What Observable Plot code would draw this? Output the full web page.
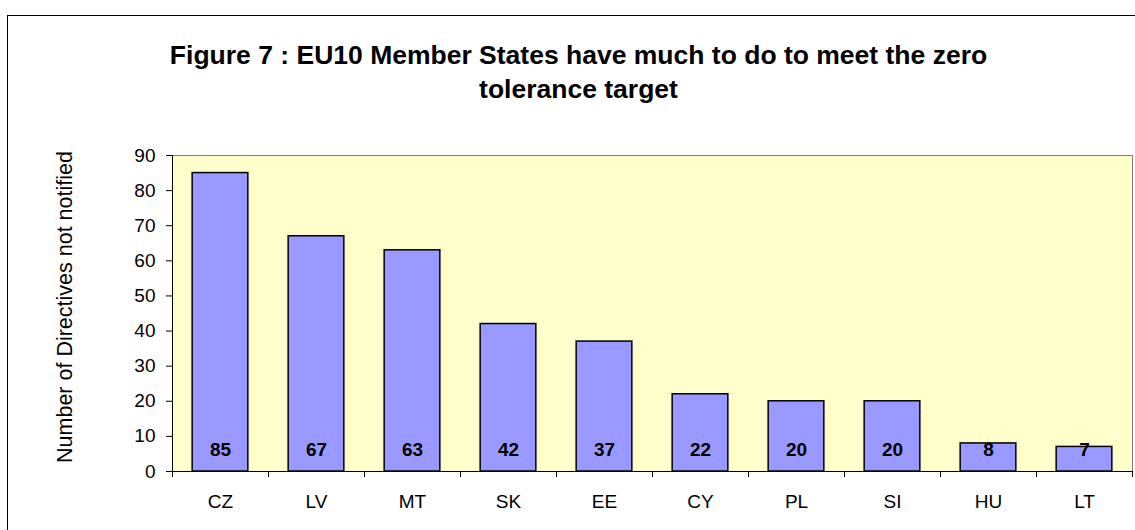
<!DOCTYPE html>
<html>
<head>
<meta charset="utf-8">
<script src="https://cdn.jsdelivr.net/npm/d3@7"></script>
<script src="https://cdn.jsdelivr.net/npm/@observablehq/plot@0.6"></script>
<style>
  body { margin: 0; background: #fff; font-family: "Liberation Sans", Arial, sans-serif; }
  #wrap { position: relative; width: 1135px; height: 530px; overflow: hidden; }
  #frame { position: absolute; left: 7px; top: 15px; width: 1200px; height: 600px; border: 1px solid #000; box-sizing: border-box; }
  #title { position: absolute; left: 7px; width: 1143px; top: 38px; text-align: center; font-weight: bold; font-size: 26.5px; line-height: 34px; color: #000; }
  #ylabel { position: absolute; left: 66px; top: 307px; transform: translate(-50%, -50%) rotate(-90deg); white-space: nowrap; font-size: 21.5px; line-height: 21.5px; color: #000; }
  #chart { position: absolute; left: 0; top: 130px; }
</style>
</head>
<body>
<div id="wrap">
  <div id="frame"></div>
  <div id="title"></div>
  <div id="ylabel"></div>
  <div id="chart"></div>
</div>
<script>
const titleLines = ["Figure 7 : EU10 Member States have much to do to meet the zero", "tolerance target"];
const yAxisTitle = "Number of Directives not notified";
const countries = ["CZ", "LV", "MT", "SK", "EE", "CY", "PL", "SI", "HU", "LT"];
const notNotified = [85, 67, 63, 42, 37, 22, 20, 20, 8, 7];
const yTicks = [0, 10, 20, 30, 40, 50, 60, 70, 80, 90];

const titleEl = document.getElementById("title");
titleLines.forEach((t, i) => {
  if (i) titleEl.appendChild(document.createElement("br"));
  titleEl.appendChild(document.createTextNode(t));
});
document.getElementById("ylabel").textContent = yAxisTitle;

const data = countries.map((c, i) => ({country: c, value: notNotified[i]}));

const W = 1135, H = 400, mL = 172, mR = 3, mT = 25, mB = 59;
const step = (W - mL - mR) / countries.length;
const innerH = H - mT - mB;

const chart = Plot.plot({
  width: W,
  height: H,
  marginLeft: mL,
  marginRight: mR,
  marginTop: mT,
  marginBottom: mB,
  style: {fontFamily: '"Liberation Sans", Arial, sans-serif', fontSize: "19px", color: "#000", background: "transparent"},
  x: {domain: countries, paddingInner: 0.42, paddingOuter: 0.21, round: false, label: null},
  y: {domain: [0, 90], label: null},
  marks: [
    Plot.frame({fill: "#FFFFCC", stroke: "#808080", strokeWidth: 1}),
    Plot.barY(data, {x: "country", y: "value", fill: "#9999FF", stroke: "#000", strokeWidth: 1.5}),
    Plot.text(data, {x: "country", y: 0, text: d => String(d.value), dy: -22, fontWeight: "bold", fontSize: 19, fill: "#000"}),
    Plot.ruleY([0], {stroke: "#000", strokeWidth: 1}),
    Plot.ruleX([countries[0]], {dx: -step / 2, stroke: "#000", strokeWidth: 1}),
    Plot.axisY({ticks: yTicks, tickSize: 6, tickPadding: 11, label: null, stroke: "#000", fontSize: 19}),
    Plot.axisX({tickSize: 0, tickPadding: 23, label: null, fontSize: 19}),
    Plot.ruleX(countries, {dx: -step / 2, insetTop: innerH, insetBottom: -6, stroke: "#000", strokeWidth: 1}),
    Plot.ruleX([countries[countries.length - 1]], {dx: step / 2, insetTop: innerH, insetBottom: -6, stroke: "#000", strokeWidth: 1})
  ]
});
document.getElementById("chart").appendChild(chart);
</script>
</body>
</html>
